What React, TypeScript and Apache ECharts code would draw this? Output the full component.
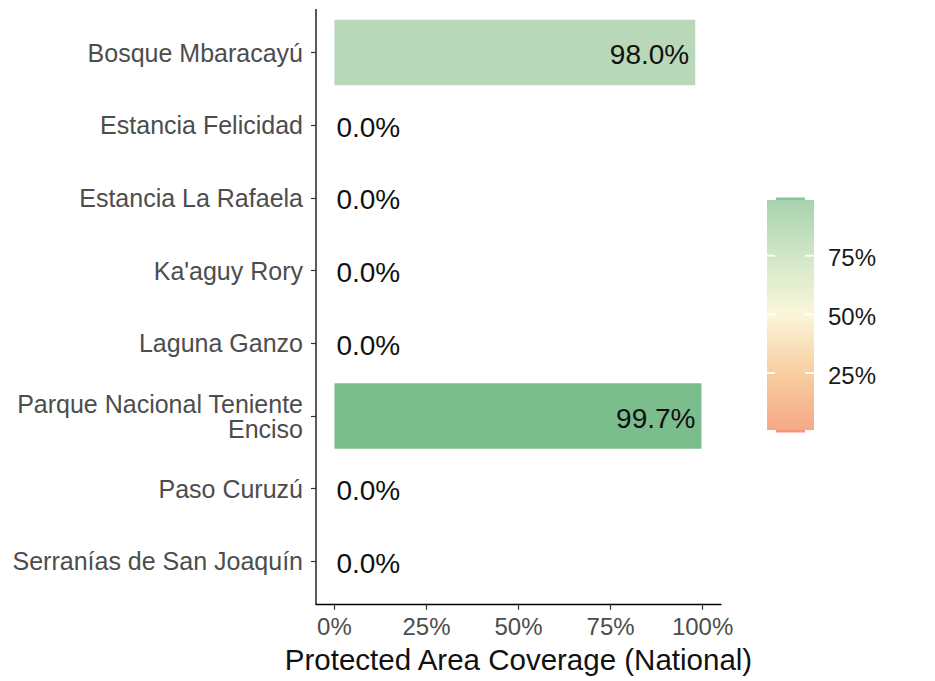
import React, { useEffect, useRef } from "react";
import * as echarts from "echarts";

const categories = [
  "Bosque Mbaracayú",
  "Estancia Felicidad",
  "Estancia La Rafaela",
  "Ka'aguy Rory",
  "Laguna Ganzo",
  "Parque Nacional Teniente\nEnciso",
  "Paso Curuzú",
  "Serranías de San Joaquín",
];
const coverage = [98.0, 0.0, 0.0, 0.0, 0.0, 99.7, 0.0, 0.0];
const barColors = ["#b8d8b9", "#f4a582", "#f4a582", "#f4a582", "#f4a582", "#7cbd8e", "#f4a582", "#f4a582"];
const xTicks = [0, 25, 50, 75, 100];
const legendTicks = [25, 50, 75];
const legendStops = [
  { offset: 0, color: "#a7d2ae" },
  { offset: 0.25, color: "#d2e7c8" },
  { offset: 0.5, color: "#fbf6d9" },
  { offset: 0.75, color: "#f7cea1" },
  { offset: 1, color: "#f5a986" },
];

const FONT = "'Liberation Sans', Arial, Helvetica, sans-serif";

export default function App() {
  const ref = useRef<HTMLDivElement>(null);
  useEffect(() => {
    if (!ref.current) return;
    const chart = echarts.init(ref.current, null, { renderer: "svg" });

    const lgTop = 197;
    const lgBottom = 431.7;
    const lgY = (v: number) => lgBottom - (v / 100) * (lgBottom - lgTop);
    const lgX = 767;
    const lgW = 47;

    const graphics: any[] = [
      {
        type: "line",
        shape: { x1: 316, y1: 9, x2: 316, y2: 604.5 },
        style: { stroke: "#000", lineWidth: 1.3 },
        silent: true,
      },
      {
        type: "rect",
        shape: { x: lgX, y: 200, width: lgW, height: 230 },
        style: {
          fill: new echarts.graphic.LinearGradient(0, 0, 0, 1, legendStops),
        },
        silent: true,
      },
      {
        type: "rect",
        shape: { x: lgX + 9, y: 197.5, width: lgW - 18, height: 2.5 },
        style: { fill: "#88c59a" },
        silent: true,
      },
      {
        type: "rect",
        shape: { x: lgX + 9, y: 430, width: lgW - 18, height: 2.5 },
        style: { fill: "#f7937a" },
        silent: true,
      },
    ];
    legendTicks.forEach((t) => {
      const y = lgY(t);
      graphics.push(
        {
          type: "line",
          shape: { x1: lgX, y1: y, x2: lgX + 8, y2: y },
          style: { stroke: "#fff", lineWidth: 1.8 },
          silent: true,
        },
        {
          type: "line",
          shape: { x1: lgX + lgW - 9, y1: y, x2: lgX + lgW, y2: y },
          style: { stroke: "#fff", lineWidth: 1.8 },
          silent: true,
        },
        {
          type: "text",
          x: 828,
          y: y + 2,
          style: {
            text: t + "%",
            fontSize: 24,
            fontFamily: FONT,
            fill: "#1a1a1a",
            verticalAlign: "middle",
            align: "left",
          },
          silent: true,
        }
      );
    });

    chart.setOption({
      animation: false,
      backgroundColor: "#fff",
      grid: { left: 316, right: 214, top: 16.2, bottom: 83.2, containLabel: false },
      xAxis: {
        type: "value",
        min: -5,
        max: 105,
        offset: 6,
        name: "Protected Area Coverage (National)",
        nameLocation: "middle",
        nameGap: 41,
        nameTextStyle: { fontSize: 29.5, fontFamily: FONT, color: "#111" },
        axisLine: { show: true, onZero: false, lineStyle: { color: "#000", width: 1.3 } },
        axisTick: { show: true, customValues: xTicks, length: 6, lineStyle: { color: "#333", width: 1.2 } },
        axisLabel: {
          customValues: xTicks,
          formatter: (v: number) => v + "%",
          fontSize: 24,
          fontFamily: FONT,
          color: "#4d4d4d",
          margin: 11,
        },
        splitLine: { show: false },
      },
      yAxis: {
        type: "category",
        data: categories,
        inverse: true,
        axisLine: { show: false, onZero: false },
        axisTick: { show: true, alignWithLabel: true, length: 5, lineStyle: { color: "#333", width: 1.2 } },
        axisLabel: {
          fontSize: 25,
          fontFamily: FONT,
          color: "#4d4d4d",
          margin: 13,
          lineHeight: 25,
          padding: [4, 0, 0, 0],
          align: "right",
        },
        splitLine: { show: false },
      },
      series: [
        {
          type: "bar",
          barWidth: "90%",
          data: coverage.map((v, i) => ({
            value: v,
            itemStyle: { color: barColors[i] },
            label: {
              show: true,
              position: v > 50 ? "insideRight" : "right",
              distance: v > 50 ? 6 : 2,
              offset: [0, 2],
            },
          })),
          label: {
            show: true,
            formatter: (p: any) => Number(p.value).toFixed(1) + "%",
            fontSize: 28,
            fontFamily: FONT,
            color: "#111",
          },
        },
      ],
      graphic: graphics,
    });
    return () => chart.dispose();
  }, []);
  return (
    <div
      ref={ref}
      style={{ position: "fixed", left: 0, top: 0, width: 935, height: 681, background: "#fff" }}
    />
  );
}
